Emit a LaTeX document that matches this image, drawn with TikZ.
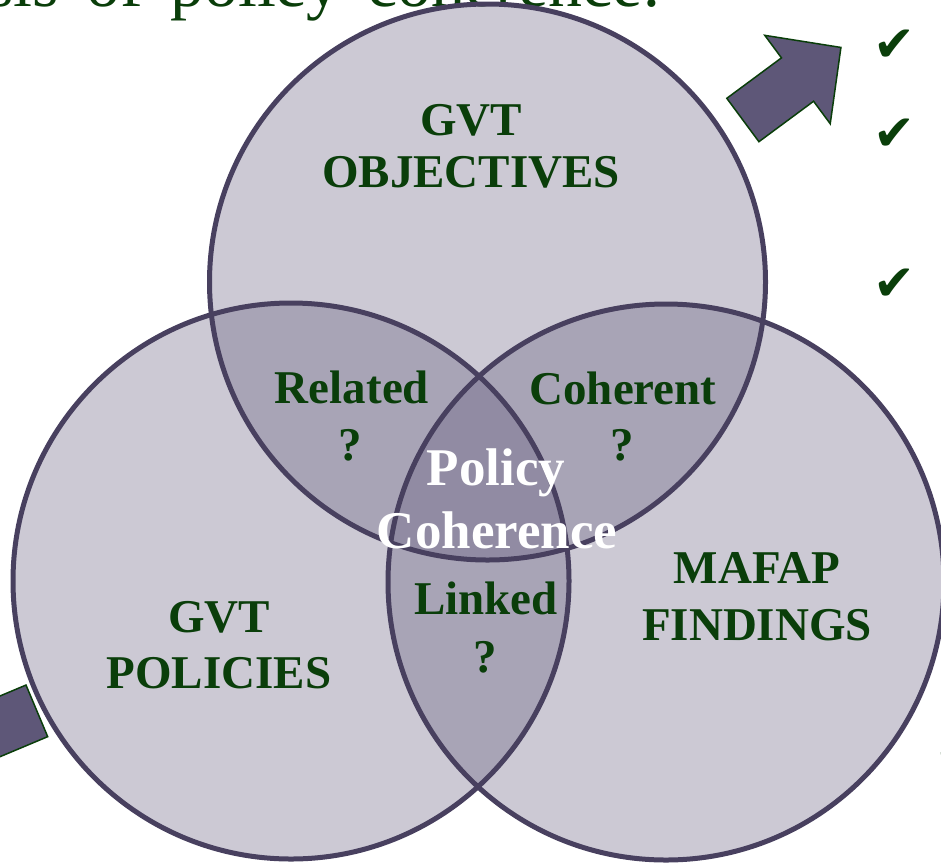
\documentclass[tikz,border=0pt]{standalone}
\usepackage{fontspec}
\setmainfont{Liberation Serif}
\newfontfamily\headfont[WordSpace=1.6]{Liberation Serif}
\newfontfamily\tickfont{DejaVu Sans}
\definecolor{leafgreen}{RGB}{10,62,10}
\definecolor{ringline}{RGB}{72,64,95}
\definecolor{ringfill}{RGB}{95,87,121}
\definecolor{arrowfill}{RGB}{94,87,120}

\begin{document}
\begin{tikzpicture}[x=1pt,y=-1pt,
  ring/.style={fill=ringfill, fill opacity=0.32},
  ringedge/.style={draw=ringline, line width=5pt},
  venntext/.style={text=leafgreen, font=\bfseries\fontsize{47}{52}\selectfont, anchor=base, inner sep=0pt},
  centretext/.style={text=white, font=\bfseries\fontsize{53}{58}\selectfont, anchor=base, inner sep=0pt},
  bigarrow/.style={fill=arrowfill, draw=leafgreen, line width=1.5pt, line join=miter},
  checkmark/.style={text=leafgreen, font=\tickfont\fontsize{50}{50}\selectfont, inner sep=0pt}
]
\useasboundingbox (0,0) rectangle (941,865);
\clip (0,0) rectangle (941,865);

% heading line running off the top edge
\node[text=leafgreen, font=\headfont\fontsize{68}{70}\selectfont, anchor=base east, inner sep=0pt]
  (heading) at (662,6) {sis of policy coherence:};

% block arrows
\path[bigarrow, shift={(742.85,120)}, rotate=36.5]
  (0,27) -- (68,27) -- (68,55) -- (122,0) -- (68,-55) -- (68,-27) -- (0,-27) -- cycle;
\path[bigarrow, shift={(36.85,710.85)}, rotate=202.8]
  (0,28) -- (68,28) -- (68,55) -- (122,0) -- (68,-55) -- (68,-28) -- (0,-28) -- cycle;

% check marks
\node[checkmark] (chk1) at (894,46) {✔};
\node[checkmark] (chk2) at (894,135) {✔};
\node[checkmark] (chk3) at (894,285) {✔};
\node[checkmark] (chk4) at (956,754) {✔};

% the three circles
\coordinate (cTop) at (487.5,282);
\coordinate (cLeft) at (291,581);
\coordinate (cRight) at (666,582);
\foreach \c in {cTop,cLeft,cRight} \path[ring] (\c) circle[radius=278];
\foreach \c in {cTop,cLeft,cRight} \path[ringedge] (\c) circle[radius=278];

% circle captions
\node[venntext] (objA) at (471,135) {GVT};
\node[venntext] (objB) at (471,187) {OBJECTIVES};
\node[venntext] (polA) at (219,632) {GVT};
\node[venntext] (polB) at (219,688) {POLICIES};
\node[venntext] (mafA) at (757,583) {MAFAP};
\node[venntext] (mafB) at (757,640) {FINDINGS};

% overlap captions
\node[venntext] (relA) at (352,403) {Related};
\node[venntext] (relB) at (350,460) {?};
\node[venntext] (cohA) at (623,404) {Coherent};
\node[venntext] (cohB) at (622,460) {?};
\node[venntext] (linA) at (486,614) {Linked};
\node[venntext] (linB) at (485,672) {?};

% centre
\node[centretext] (pcA) at (496,485) {Policy};
\node[centretext] (pcB) at (497,548) {Coherence};
\end{tikzpicture}
\end{document}
